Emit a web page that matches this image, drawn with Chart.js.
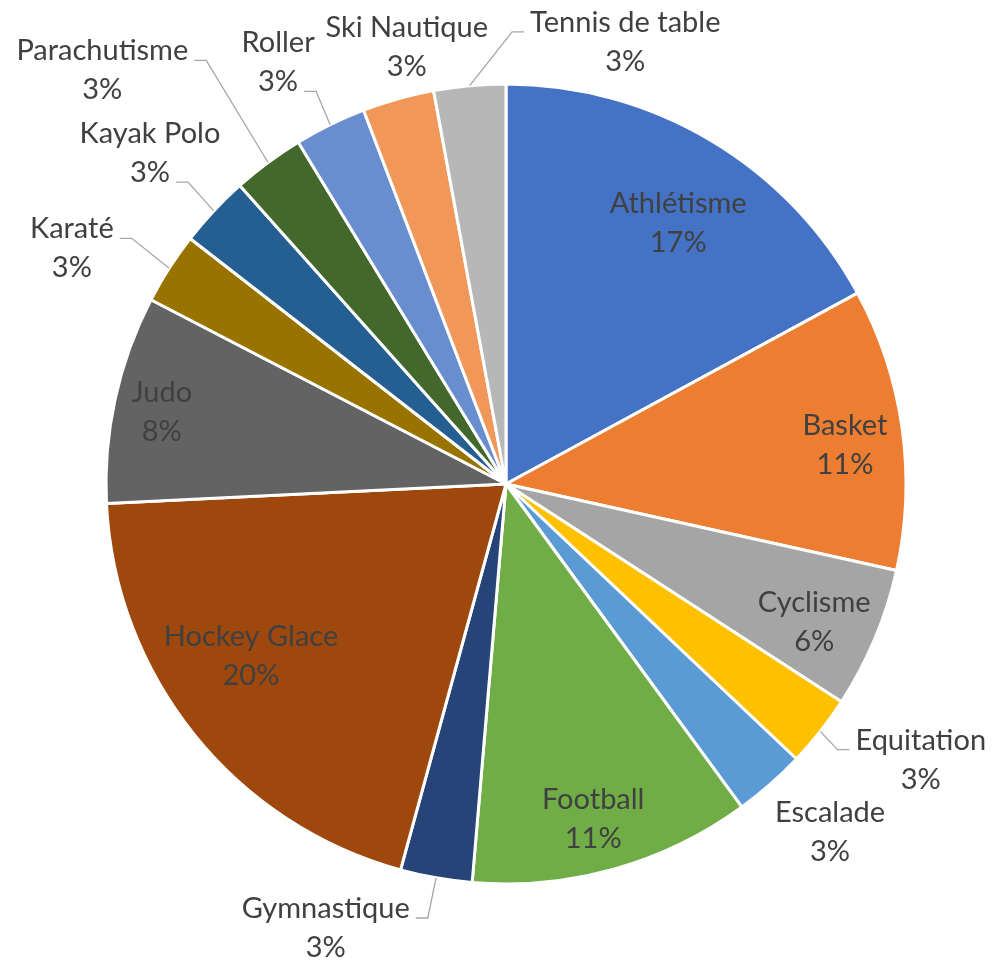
<!DOCTYPE html>
<html>
<head>
<meta charset="utf-8">
<script src="https://cdn.jsdelivr.net/npm/chart.js@4.4.1/dist/chart.umd.min.js"></script>
<style>
    html, body { margin: 0; padding: 0; background: #ffffff; }
    #cadre { width: 994px; height: 963px; }
</style>
</head>
<body>
<div id="cadre"><canvas id="camembert" width="994" height="963"></canvas></div>
<script>
/* -----------------------------
   DONNEES
----------------------------- */
const sports = [
    "Athlétisme", "Basket", "Cyclisme", "Equitation", "Escalade",
    "Football", "Gymnastique", "Hockey Glace", "Judo", "Karaté",
    "Kayak Polo", "Parachutisme", "Roller", "Ski Nautique", "Tennis de table"
];
const parts = [17.1, 11.4, 5.7, 2.9, 2.9, 11.4, 2.9, 20.0, 8.4, 2.9, 2.9, 2.9, 2.9, 2.9, 2.9];

const couleurs = [
    "#4472C4", "#ED7D31", "#A5A5A5", "#FFC000", "#5B9BD5",
    "#70AD47", "#264478", "#9E480E", "#636363", "#997300",
    "#255E91", "#43682B", "#698ED0", "#F1975A", "#B7B7B7"
];

/* -----------------------------
   ETIQUETTES
   deg : angle depuis midi (sens horaire), rf : fraction du rayon
   ligne : ligne de texte ou s'accroche le trait de rappel
----------------------------- */
const placement = {
    "Athlétisme":      { deg: 33.4,  rf: 0.782 },
    "Basket":          { deg: 83.4,  rf: 0.853 },
    "Cyclisme":        { deg: 114.1, rf: 0.844 },
    "Equitation":      { deg: 123.6, rf: 1.245, ligne: 1 },
    "Escalade":        { deg: 137.0, rf: 1.188 },
    "Football":        { deg: 165.4, rf: 0.865 },
    "Gymnastique":     { deg: 202.1, rf: 1.198, ligne: 1 },
    "Hockey Glace":    { deg: 236.0, rf: 0.769 },
    "Judo":            { deg: 281.8, rf: 0.879 },
    "Karaté":          { deg: 298.5, rf: 1.235, ligne: 1 },
    "Kayak Polo":      { deg: 312.9, rf: 1.215, ligne: 2 },
    "Parachutisme":    { deg: 315.7, rf: 1.445, ligne: 1 },
    "Roller":          { deg: 331.6, rf: 1.198, ligne: 2 },
    "Ski Nautique":    { deg: 347.2, rf: 1.120 },
    "Tennis de table": { deg: 15.1,  rf: 1.145, ligne: 1 }
};

const etiquettesPlugin = {
    id: "etiquettes",
    afterDatasetsDraw(chart) {
        const ctx = chart.ctx;
        const arcs = chart.getDatasetMeta(0).data;
        const total = parts.reduce((a, b) => a + b, 0);

        ctx.save();
        ctx.font = "29px Lato";
        ctx.fillStyle = "#404040";
        ctx.strokeStyle = "#A6A6A6";
        ctx.lineWidth = 1.3;
        ctx.textAlign = "center";
        ctx.textBaseline = "alphabetic";

        arcs.forEach((arc, i) => {
            const nom = sports[i];
            const pct = Math.round(parts[i] / total * 100) + "%";
            const p = placement[nom];
            const R = arc.outerRadius;
            const a = p.deg * Math.PI / 180 - Math.PI / 2;
            const cx = arc.x + p.rf * R * Math.cos(a);
            const cy = arc.y + p.rf * R * Math.sin(a);

            ctx.fillText(nom, cx, cy - 10);
            ctx.fillText(pct, cx, cy + 29);

            if (p.ligne) {
                const milieu = (arc.startAngle + arc.endAngle) / 2;
                const x0 = arc.x + R * Math.cos(milieu);
                const y0 = arc.y + R * Math.sin(milieu);
                const texte = p.ligne === 1 ? nom : pct;
                const yb = p.ligne === 1 ? cy - 10 : cy + 29;
                const sens = cx > x0 ? -1 : 1;
                const bord = cx + sens * ctx.measureText(texte).width / 2;

                ctx.beginPath();
                ctx.moveTo(x0, y0);
                ctx.lineTo(bord + sens * 18, yb);
                ctx.lineTo(bord + sens * 6, yb);
                ctx.stroke();
            }
        });
        ctx.restore();
    }
};

/* -----------------------------
   GRAPHIQUE
----------------------------- */
new Chart(document.getElementById("camembert"), {
    type: "pie",
    data: {
        labels: sports,
        datasets: [{
            data: parts,
            backgroundColor: couleurs,
            borderColor: "#ffffff",
            borderWidth: 3
        }]
    },
    options: {
        responsive: false,
        animation: false,
        layout: {
            padding: { left: 104.5, top: 82.5, right: 86.5, bottom: 77.5 }
        },
        plugins: {
            legend: { display: false },
            tooltip: { enabled: false }
        }
    },
    plugins: [etiquettesPlugin]
});
</script>
</body>
</html>
